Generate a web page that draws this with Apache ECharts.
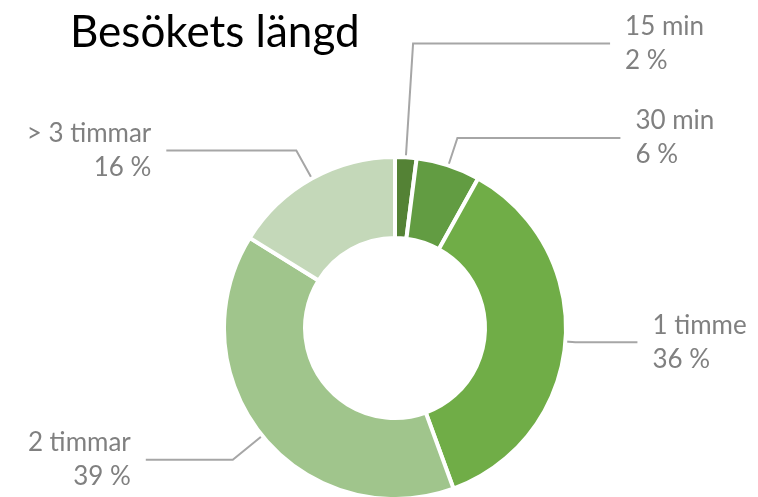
<!DOCTYPE html>
<html>
<head>
<meta charset="utf-8">
<script src="https://cdn.jsdelivr.net/npm/echarts@6/dist/echarts.min.js"></script>
<style>
  html, body { margin: 0; padding: 0; background: #fff; }
  #chart { width: 758px; height: 497px; }
</style>
</head>
<body>
<div id="chart"></div>
<script>
// Besökets längd
const categories = ['15 min', '30 min', '1 timme', '2 timmar', '> 3 timmar'];
const values = [2, 6, 36, 39, 16];
const colors = ['#548235', '#629c42', '#70ad47', '#a0c58c', '#c4d8b9'];
// leader line lengths per slice [radial, horizontal]
const lineLengths = [[114, 197], [29, 163], [10, 62], [38, 87], [32, 130]];

const chart = echarts.init(document.getElementById('chart'));

const seriesData = categories.map((name, i) => ({
  name: name,
  value: values[i],
  itemStyle: { color: colors[i] },
  labelLine: { length: lineLengths[i][0], length2: lineLengths[i][1] }
}));

const option = {
  animation: false,
  title: {
    text: 'Besökets längd',
    left: 65,
    top: 6,
    textStyle: { fontFamily: 'Lato', fontSize: 44, fontWeight: 'normal', color: '#000' }
  },
  series: [
    {
      type: 'pie',
      center: [395, 328],
      radius: [90, 171],
      startAngle: 90,
      clockwise: true,
      avoidLabelOverlap: false,
      data: seriesData,
      itemStyle: { borderColor: '#fff', borderWidth: 4 },
      label: {
        show: true,
        position: 'outside',
        formatter: p => p.name + '\n' + p.value + ' %',
        fontFamily: 'Lato',
        fontSize: 26,
        lineHeight: 34,
        color: '#808080',
        distanceToLabelLine: 15,
        overflow: 'none'
      },
      labelLine: {
        show: true,
        smooth: false,
        lineStyle: { color: '#a6a6a6', width: 2 }
      },
      emphasis: { disabled: true }
    }
  ]
};

chart.setOption(option);
</script>
</body>
</html>
